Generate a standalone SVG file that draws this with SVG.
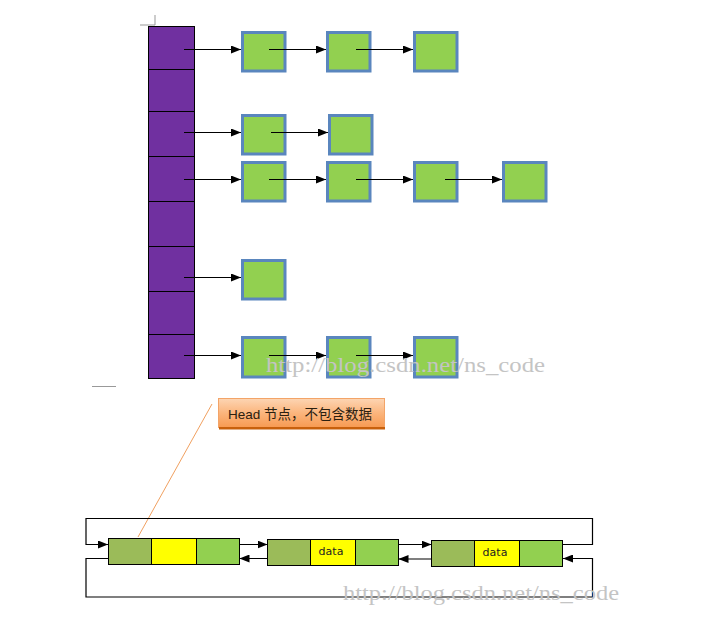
<svg xmlns="http://www.w3.org/2000/svg" width="703" height="617" viewBox="0 0 703 617">
<defs>
<marker id="ah" viewBox="0 0 10 8" refX="10" refY="4" markerWidth="10" markerHeight="8" markerUnits="userSpaceOnUse" orient="auto">
<path d="M0,0 L10,4 L0,8 z" fill="#000"/>
</marker>
<linearGradient id="og" x1="0" y1="0" x2="0" y2="1">
<stop offset="0" stop-color="#fdd5b3"/>
<stop offset="0.5" stop-color="#fbb57d"/>
<stop offset="1" stop-color="#f79a52"/>
</linearGradient>
</defs>
<style>
.cell{fill:#7030a0;stroke:#000;stroke-width:1}
.box{fill:#92d050;stroke:#5a86be;stroke-width:3}
.ar{stroke:#000;stroke-width:1.2;fill:none;marker-end:url(#ah)}
.c1{fill:#9bbb59;stroke:#000;stroke-width:1}
.c2{fill:#ffff00;stroke:#000;stroke-width:1}
.c3{fill:#92d050;stroke:#000;stroke-width:1}
.wm{font-family:"Liberation Serif",serif;font-size:20px;fill:#c4c4c4}
.lbl{font-family:"DejaVu Sans","Liberation Sans",sans-serif;font-size:11px;fill:#222}
</style>
<rect width="703" height="617" fill="#fff"/>
<path d="M140,25 H155 V15" stroke="#999" stroke-width="1" fill="none"/>
<path d="M92,386.5 H116" stroke="#999" stroke-width="1" fill="none"/>
<g id="table">
<rect class="cell" x="148.5" y="26.5" width="46" height="43"/>
<rect class="cell" x="148.5" y="69.5" width="46" height="42"/>
<rect class="cell" x="148.5" y="111.5" width="46" height="45"/>
<rect class="cell" x="148.5" y="156.5" width="46" height="45"/>
<rect class="cell" x="148.5" y="201.5" width="46" height="45"/>
<rect class="cell" x="148.5" y="246.5" width="46" height="45"/>
<rect class="cell" x="148.5" y="291.5" width="46" height="43"/>
<rect class="cell" x="148.5" y="334.5" width="46" height="44"/>
</g>
<g id="n1a"><rect class="box" x="242.5" y="32.5" width="42.5" height="38.5"/></g>
<g id="n1b"><rect class="box" x="327.5" y="32.5" width="42.5" height="38.5"/></g>
<g id="n1c"><rect class="box" x="414.5" y="32.5" width="42.5" height="38.5"/></g>
<g id="n2a"><rect class="box" x="242.5" y="115.5" width="42.5" height="38.5"/></g>
<g id="n2b"><rect class="box" x="329.5" y="115.5" width="42.5" height="38.5"/></g>
<g id="n3a"><rect class="box" x="242.5" y="162.5" width="42.5" height="38.5"/></g>
<g id="n3b"><rect class="box" x="327.5" y="162.5" width="42.5" height="38.5"/></g>
<g id="n3c"><rect class="box" x="414.5" y="162.5" width="42.5" height="38.5"/></g>
<g id="n3d"><rect class="box" x="503.5" y="162.5" width="42.5" height="38.5"/></g>
<g id="n5a"><rect class="box" x="242.5" y="260.5" width="42.5" height="38.5"/></g>
<g id="n8a"><rect class="box" x="242.5" y="337.5" width="42.5" height="39.5"/></g>
<g id="n8b"><rect class="box" x="327.5" y="337.5" width="42.5" height="39.5"/></g>
<g id="n8c"><rect class="box" x="414.5" y="337.5" width="42.5" height="39.5"/></g>
<g id="connectors">
<path class="ar" d="M184,49.5 H241"/>
<path class="ar" d="M269,49.5 H326"/>
<path class="ar" d="M356,49.5 H413"/>
<path class="ar" d="M184,132.5 H241"/>
<path class="ar" d="M271,132.5 H328"/>
<path class="ar" d="M184,179.5 H241"/>
<path class="ar" d="M269,179.5 H326"/>
<path class="ar" d="M356,179.5 H413"/>
<path class="ar" d="M445,179.5 H502"/>
<path class="ar" d="M184,277.5 H241"/>
<path class="ar" d="M184,355.5 H241"/>
<path class="ar" d="M269,355.5 H326"/>
<path class="ar" d="M356,355.5 H413"/>
<path d="M212,404 L138,537" stroke="#f0a060" stroke-width="1" fill="none"/>
<path class="ar" d="M553,544.5 H592.5 V518.5 H86 V544.5 H108"/>
<path class="ar" d="M122,558.5 H86 V597 H592.5 V558.5 H563"/>
<path class="ar" d="M220,544.5 H267.5"/>
<path class="ar" d="M279,558.5 H239.5"/>
<path class="ar" d="M384,544.5 H431.5"/>
<path class="ar" d="M438,559 H398.5"/>
</g>
<g id="head">
<rect x="218.5" y="398.5" width="166" height="29" fill="url(#og)" stroke="#f3a468" stroke-width="1"/>
<rect x="219" y="427" width="166" height="2.5" fill="#c8600c"/>
<text x="228" y="418.5" font-family="'Liberation Sans','Noto Sans CJK SC',sans-serif" font-size="13.5" fill="#2a2010">Head 节点，不包含数据</text>
</g>
<g id="dn1">
<rect class="c1" x="108.5" y="538.5" width="43" height="26"/>
<rect class="c2" x="151.5" y="538.5" width="45" height="26"/>
<rect class="c3" x="196.5" y="538.5" width="43" height="26"/>
</g>
<g id="dn2">
<rect class="c1" x="267.5" y="539.5" width="43" height="26"/>
<rect class="c2" x="310.5" y="539.5" width="45" height="26"/>
<rect class="c3" x="355.5" y="539.5" width="43" height="26"/>
<text class="lbl" x="331" y="555" text-anchor="middle">data</text>
</g>
<g id="dn3">
<rect class="c1" x="431.5" y="540.5" width="43" height="26"/>
<rect class="c2" x="474.5" y="540.5" width="45" height="26"/>
<rect class="c3" x="519.5" y="540.5" width="43" height="26"/>
<text class="lbl" x="495" y="556" text-anchor="middle">data</text>
</g>
<text class="wm" x="266" y="372" textLength="279" lengthAdjust="spacingAndGlyphs">http://blog.csdn.net/ns_code</text>
<text class="wm" x="343" y="600" textLength="276" lengthAdjust="spacingAndGlyphs">http://blog.csdn.net/ns_code</text>
</svg>
